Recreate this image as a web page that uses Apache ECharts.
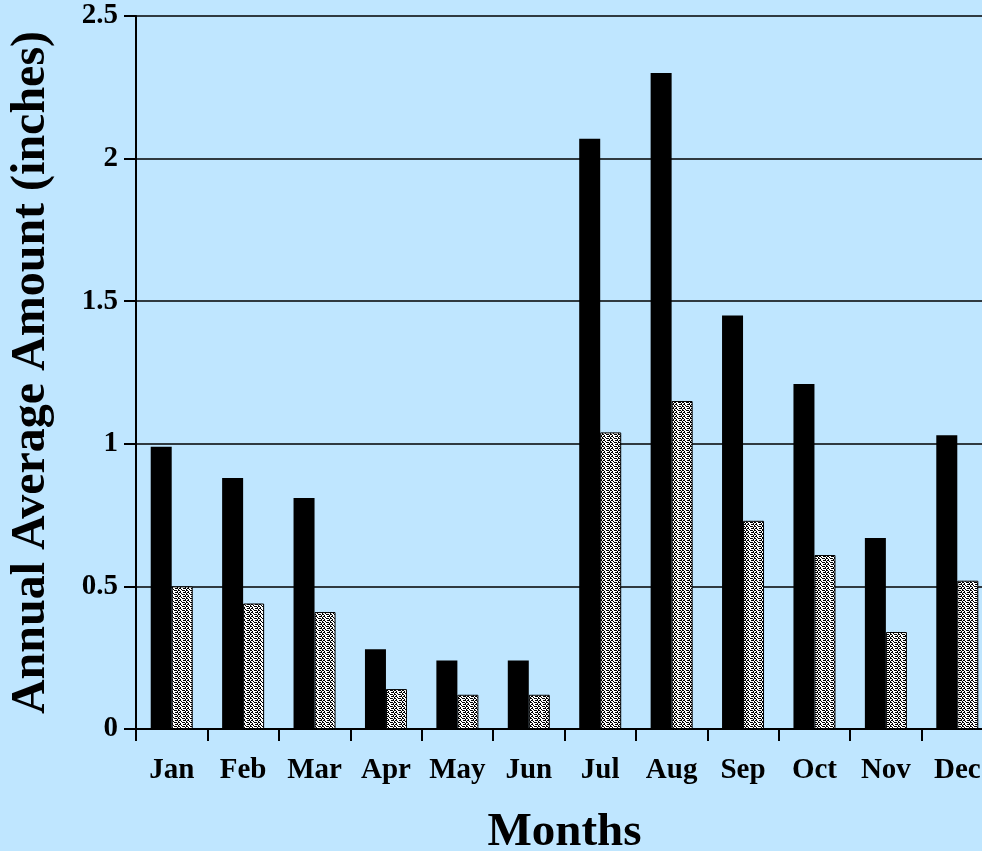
<!DOCTYPE html>
<html>
<head>
<meta charset="utf-8">
<script src="https://cdn.jsdelivr.net/npm/echarts@6/dist/echarts.min.js"></script>
<style>
  html, body { margin: 0; padding: 0; background: #BFE6FF; }
  #chart { width: 982px; height: 851px; }
</style>
</head>
<body>
<div id="chart"></div>
<script>
// Monthly precipitation, annual average amounts in inches
const months = ['Jan', 'Feb', 'Mar', 'Apr', 'May', 'Jun', 'Jul', 'Aug', 'Sep', 'Oct', 'Nov', 'Dec'];
const solidValues  = [0.99, 0.88, 0.81, 0.28, 0.24, 0.24, 2.07, 2.30, 1.45, 1.21, 0.67, 1.03];
const dottedValues = [0.50, 0.44, 0.41, 0.14, 0.12, 0.12, 1.04, 1.15, 0.73, 0.61, 0.34, 0.52];
const yMin = 0, yMax = 2.5, yStep = 0.5;

// Speckled fill tile for the second series
function speckleTile() {
  const bits = [
    [1, 1, 0, 1, 1, 0, 0, 1],
    [0, 0, 1, 0, 0, 1, 0, 0],
    [1, 0, 1, 1, 0, 0, 1, 1],
    [0, 1, 0, 0, 1, 0, 0, 0]
  ];
  const c = document.createElement('canvas');
  c.width = 8; c.height = 4;
  const ctx = c.getContext('2d');
  ctx.fillStyle = '#ffffff';
  ctx.fillRect(0, 0, 8, 4);
  ctx.fillStyle = '#000000';
  bits.forEach((row, y) => row.forEach((b, x) => { if (b) ctx.fillRect(x, y, 1, 1); }));
  return c;
}

const font = '"Liberation Serif", "Times New Roman", serif';
const chart = echarts.init(document.getElementById('chart'));
chart.setOption({
  backgroundColor: '#BFE6FF',
  animation: false,
  grid: { left: 136, top: 16, bottom: 122, right: -11, containLabel: false, outerBoundsMode: 'none' },
  xAxis: {
    type: 'category',
    data: months,
    boundaryGap: true,
    name: 'Months',
    nameLocation: 'middle',
    nameGap: 80,
    nameTextStyle: { fontFamily: font, fontWeight: 'bold', fontSize: 47, color: '#000' },
    axisLine: { show: true, lineStyle: { color: '#000', width: 2 } },
    axisTick: { show: true, inside: false, length: 12, alignWithLabel: false, lineStyle: { color: '#000', width: 2 } },
    axisLabel: { interval: 0, margin: 27, fontFamily: font, fontWeight: 'bold', fontSize: 29, color: '#000' },
    splitLine: { show: false }
  },
  yAxis: {
    type: 'value',
    min: yMin, max: yMax, interval: yStep,
    name: 'Annual Average Amount (inches)',
    nameLocation: 'middle',
    nameGap: 80,
    nameTextStyle: { fontFamily: font, fontWeight: 'bold', fontSize: 48, color: '#000' },
    axisLine: { show: true, lineStyle: { color: '#000', width: 2 } },
    axisTick: { show: true, inside: false, length: 12, lineStyle: { color: '#000', width: 2 } },
    axisLabel: { margin: 18, fontFamily: font, fontWeight: 'bold', fontSize: 29, color: '#000' },
    splitLine: { show: true, lineStyle: { color: '#000', width: 1.5 } }
  },
  series: [
    {
      name: 'Solid',
      type: 'bar',
      data: solidValues,
      barWidth: 21,
      barGap: '0%',
      itemStyle: { color: '#000' }
    },
    {
      name: 'Speckled',
      type: 'bar',
      data: dottedValues,
      barWidth: 21,
      barGap: '0%',
      itemStyle: {
        color: { image: speckleTile(), repeat: 'repeat' },
        borderColor: '#000',
        borderWidth: 1
      }
    }
  ]
});
</script>
</body>
</html>
